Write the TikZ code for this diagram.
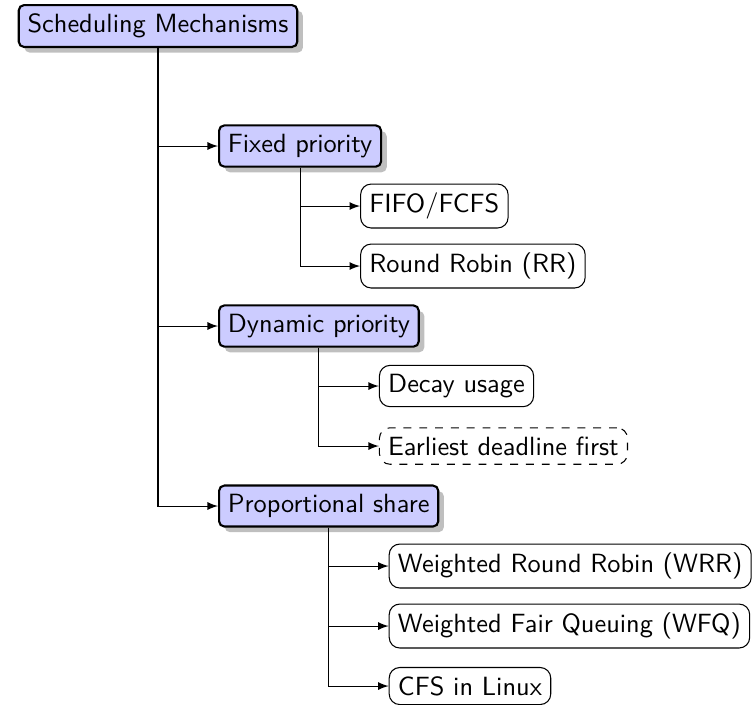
\documentclass[tikz,border=0pt]{standalone}
\usepackage{tikz}
\usetikzlibrary{arrows,positioning,shadows}
\tikzstyle{mech}=[draw,thick,fill=blue!20,rounded corners=2pt,drop shadow,font=\sffamily]
\tikzstyle{leaf}=[draw,rounded corners=4pt,font=\sffamily]
\begin{document}
\begin{tikzpicture}[>=latex,node distance=8mm]
    \useasboundingbox (-2.107,0.347) rectangle (7.933,-9.04);
    \node [mech] (root) {Scheduling Mechanisms};
    \node [mech, right=of root.center, yshift=-16mm] (fixed) {Fixed priority};
      \node [leaf, right=of fixed.center, yshift=-8mm] (fifo) {FIFO/FCFS};
      \node [leaf, right=of fixed.center, yshift=-16mm] (rr) {Round Robin (RR)};
    \node [mech, right=of root.center, yshift=-40mm] (dynamic) {Dynamic priority};
      \node [leaf, right=of dynamic.center, yshift=-8mm] (decay) {Decay usage};
      \node [leaf, dashed, right=of dynamic.center, yshift=-16mm] (edf) {Earliest deadline first};
    \node [mech, right=of root.center, yshift=-64mm] (share) {Proportional share};
      \node [leaf, right=of share.center, yshift=-8mm] (wrr) {Weighted Round Robin (WRR)};
      \node [leaf, right=of share.center, yshift=-16mm] (wfq) {Weighted Fair Queuing (WFQ)};
      \node [leaf, right=of share.center, yshift=-24mm] (cfs) {CFS in Linux};
    \foreach \p/\c in {root/fixed,root/dynamic,root/share,fixed/fifo,fixed/rr,
      dynamic/decay,dynamic/edf,share/wrr,share/wfq,share/cfs}
      \draw [->] (\p.south) |- (\c.west);
\end{tikzpicture}
\end{document}
